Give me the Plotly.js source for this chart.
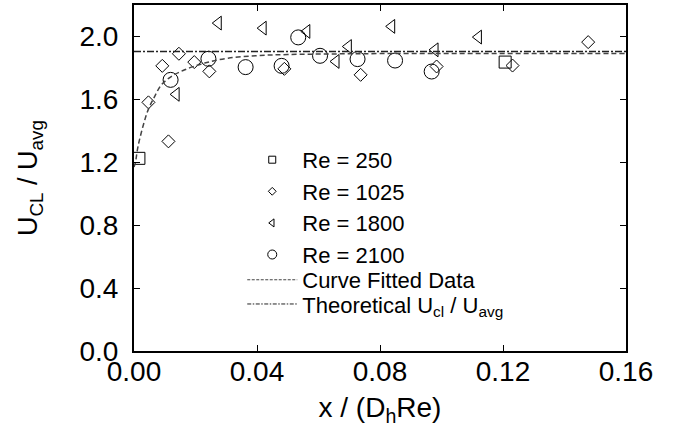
<!DOCTYPE html>
<html>
<head>
<meta charset="utf-8">
<script src="https://cdn.plot.ly/plotly-3.0.1.min.js"></script>
<style>html,body{margin:0;padding:0;background:#fff;}#chart{width:675px;height:441px;}</style>
</head>
<body>
<div id="chart"></div>
<script>
// Re = 250
const re250_x = [0.0016, 0.1207];
const re250_y = [1.225, 1.837];
// Re = 1025
const re1025_x = [0.0047, 0.0092, 0.0112, 0.0146, 0.0196, 0.0245, 0.0489, 0.0737, 0.0984, 0.1231, 0.1477];
const re1025_y = [1.581, 1.813, 1.333, 1.890, 1.837, 1.778, 1.794, 1.756, 1.809, 1.815, 1.964];
// Re = 1800
const re1800_x = [0.0137, 0.0274, 0.0420, 0.0562, 0.0657, 0.0697, 0.0838, 0.0979, 0.1120];
const re1800_y = [1.632, 2.085, 2.053, 2.032, 1.841, 1.936, 2.064, 1.915, 1.996];
// Re = 2100
const re2100_x = [0.0119, 0.0242, 0.0363, 0.0480, 0.0534, 0.0605, 0.0727, 0.0849, 0.0968];
const re2100_y = [1.724, 1.858, 1.805, 1.813, 1.994, 1.877, 1.856, 1.847, 1.777];
// Curve fitted data
const fit_x = [0, 0.0004, 0.0013, 0.0029, 0.0046, 0.0067, 0.0089, 0.0121, 0.0165, 0.023, 0.0306, 0.04, 0.05, 0.065, 0.08, 0.10, 0.12, 0.14, 0.16];
const fit_y = [1.17, 1.193, 1.30, 1.427, 1.533, 1.618, 1.692, 1.745, 1.788, 1.831, 1.862, 1.878, 1.885, 1.889, 1.891, 1.891, 1.891, 1.891, 1.891];
// Theoretical Ucl/Uavg
const theo_x = [0, 0.16];
const theo_y = [1.905, 1.905];
// labels
const legendNames = ['Re = 250', 'Re = 1025', 'Re = 1800', 'Re = 2100', 'Curve Fitted Data', 'Theoretical U<sub>cl</sub> / U<sub>avg</sub>'];
const xTicks = [0, 0.04, 0.08, 0.12, 0.16];
const xTickText = ['0.00', '0.04', '0.08', '0.12', '0.16'];
const yTicks = [0, 0.4, 0.8, 1.2, 1.6, 2.0];
const yTickText = ['0.0', '0.4', '0.8', '1.2', '1.6', '2.0'];

const FONT = 'Liberation Sans, Arial, sans-serif';
const mk = (sym, size) => ({symbol: sym, size: size, color: '#000', line: {color: '#000', width: 1}});

const traces = [
  {x: re250_x, y: re250_y, mode: 'markers', marker: mk('square-open', 12), showlegend: false},
  {x: re1025_x, y: re1025_y, mode: 'markers', marker: mk('diamond-open', 10), showlegend: false},
  {x: re1800_x, y: re1800_y, mode: 'markers', marker: mk('triangle-left-open', 12), showlegend: false},
  {x: re2100_x, y: re2100_y, mode: 'markers', marker: mk('circle-open', 15), showlegend: false},
  {x: fit_x, y: fit_y, mode: 'lines', line: {color: '#444', width: 1.5, dash: '5px,3px', shape: 'spline'}, showlegend: false},
  {x: theo_x, y: theo_y, mode: 'lines', line: {color: '#222', width: 1.5, dash: '7px,2px,2px,2px'}, showlegend: false},
  // legend entries
  {x: [null], y: [null], mode: 'markers', name: legendNames[0], marker: mk('square-open', 7)},
  {x: [null], y: [null], mode: 'markers', name: legendNames[1], marker: mk('diamond-open', 6)},
  {x: [null], y: [null], mode: 'markers', name: legendNames[2], marker: mk('triangle-left-open', 7)},
  {x: [null], y: [null], mode: 'markers', name: legendNames[3], marker: mk('circle-open', 9)},
  {x: [null], y: [null], mode: 'lines', name: legendNames[4], legend: 'legend2', line: {color: '#444', width: 1, dash: '3px,1.5px'}},
  {x: [null], y: [null], mode: 'lines', name: legendNames[5], legend: 'legend3', line: {color: '#222', width: 1, dash: '4px,1.5px,1.5px,1.5px'}}
];

const legendBase = {
  xanchor: 'left', yanchor: 'top',
  bgcolor: 'rgba(0,0,0,0)', borderwidth: 0,
  font: {family: FONT, size: 22, color: '#000'},
  itemwidth: 50, tracegroupgap: 0
};

const layout = {
  width: 675, height: 441,
  margin: {l: 134, r: 49, t: 5, b: 90},
  paper_bgcolor: '#fff', plot_bgcolor: '#fff',
  font: {family: FONT, color: '#000'},
  showlegend: true,
  legend: Object.assign({}, legendBase, {x: 0.22, y: 0.613}),
  legend2: Object.assign({}, legendBase, {x: 0.22, y: 0.266}),
  legend3: Object.assign({}, legendBase, {x: 0.22, y: 0.196}),
  xaxis: {
    range: [0, 0.16], tickvals: xTicks, ticktext: xTickText,
    ticks: 'inside', ticklen: 6, tickwidth: 1, tickcolor: '#000',
    showline: true, linewidth: 2, linecolor: '#000', mirror: 'ticks',
    showgrid: false, zeroline: false,
    ticklabelstandoff: -6,
    tickfont: {family: FONT, size: 28},
    title: {text: 'x / (D<sub>h</sub>Re)', font: {family: FONT, size: 28}, standoff: 12}
  },
  yaxis: {
    range: [0, 2.2], tickvals: yTicks, ticktext: yTickText,
    ticks: 'inside', ticklen: 6, tickwidth: 1, tickcolor: '#000',
    showline: true, linewidth: 2, linecolor: '#000', mirror: 'ticks',
    showgrid: false, zeroline: false,
    ticklabelstandoff: 8,
    tickfont: {family: FONT, size: 28},
    title: {text: 'U<sub>CL</sub> / U<sub>avg</sub>', font: {family: FONT, size: 27}, standoff: 34}
  }
};

Plotly.newPlot('chart', traces, layout, {displayModeBar: false, staticPlot: true});
</script>
</body>
</html>
